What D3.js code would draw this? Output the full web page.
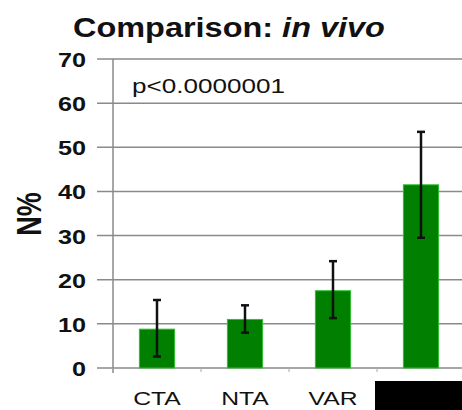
<!DOCTYPE html>
<html><head><meta charset="utf-8">
<script src="https://cdn.jsdelivr.net/npm/d3@7"></script>
<style>body{margin:0;background:#fff}svg{display:block}text{font-family:Arial,"Liberation Sans",sans-serif}</style>
</head><body><div id="chart"></div>
<script>
const categories = ["CTA", "NTA", "VAR", ""];
const values = [8.8, 11.0, 17.5, 41.5];
const errLow = [2.6, 8.0, 11.3, 29.5];
const errHigh = [15.4, 14.2, 24.2, 53.5];
const yTicks = [0, 10, 20, 30, 40, 50, 60, 70];
const titleMain = "Comparison: ";
const titleItalic = "in vivo";
const pText = "p<0.0000001";
const yLabel = "N%";

const W = 462, H = 410;
const svg = d3.select("#chart").append("svg").attr("width", W).attr("height", H);
svg.append("rect").attr("width", W).attr("height", H).attr("fill", "#fff");

const x = d3.scaleBand().domain(d3.range(categories.length)).range([113, 465]).paddingInner(0.6).paddingOuter(0.3);
const y = d3.scaleLinear().domain([0, 70]).range([368, 59]);

// gridlines
svg.append("g").selectAll("line").data(yTicks).join("line")
  .attr("x1", 97).attr("x2", W).attr("y1", d => y(d)).attr("y2", d => y(d))
  .attr("stroke", "#8a8a8a").attr("stroke-width", 1.5);
// y axis line
svg.append("line").attr("x1", 113).attr("x2", 113).attr("y1", y(70)).attr("y2", y(0) + 5)
  .attr("stroke", "#8a8a8a").attr("stroke-width", 1.5);
// x category boundary ticks
const step = x.step();
svg.append("g").selectAll("line").data(d3.range(categories.length)).join("line")
  .attr("x1", d => x(d) + x.bandwidth() / 2 - step / 2).attr("x2", d => x(d) + x.bandwidth() / 2 - step / 2)
  .attr("y1", y(0)).attr("y2", y(0) + 4).attr("stroke", "#aaa").attr("stroke-width", 1);

// y tick labels
svg.append("g").selectAll("text").data(yTicks).join("text")
  .attr("transform", d => `translate(86,${y(d) + 8}) scale(1.2,1)`)
  .attr("text-anchor", "end").attr("font-size", 21).attr("font-weight", "bold").attr("fill", "#111")
  .text(d => d);

// y label
svg.append("text").attr("transform", "translate(41,214) scale(1.3,1) rotate(-90)")
  .attr("text-anchor", "middle").attr("font-size", 27).attr("font-weight", "bold").attr("fill", "#111")
  .text(yLabel);

// bars
svg.append("g").selectAll("rect").data(values).join("rect")
  .attr("x", (d, i) => x(i)).attr("width", x.bandwidth())
  .attr("y", d => y(d)).attr("height", d => y(0) - y(d))
  .attr("fill", "#007f00").attr("stroke", "#2fbf2f").attr("stroke-width", 1);

// error bars
const eg = svg.append("g").attr("stroke", "#111").attr("stroke-width", 2.5);
values.forEach((v, i) => {
  const cx = x(i) + x.bandwidth() / 2;
  eg.append("line").attr("x1", cx).attr("x2", cx).attr("y1", y(errHigh[i])).attr("y2", y(errLow[i]));
  eg.append("line").attr("x1", cx - 4).attr("x2", cx + 4).attr("y1", y(errHigh[i])).attr("y2", y(errHigh[i]));
  eg.append("line").attr("x1", cx - 4).attr("x2", cx + 4).attr("y1", y(errLow[i])).attr("y2", y(errLow[i]));
});

// x labels
svg.append("g").selectAll("text").data(categories).join("text")
  .attr("transform", (d, i) => `translate(${x(i) + x.bandwidth() / 2},405) scale(1.3,1)`)
  .attr("text-anchor", "middle").attr("font-size", 19).attr("fill", "#111")
  .text(d => d);
// redaction box over 4th label
svg.append("rect").attr("x", 375).attr("y", 381).attr("width", W - 375).attr("height", H - 381).attr("fill", "#000");

// p text
svg.append("text").attr("x", 132).attr("y", 93).attr("font-size", 21).attr("fill", "#111")
  .attr("textLength", 153).attr("lengthAdjust", "spacingAndGlyphs").text(pText);

// title
const title = svg.append("text").attr("font-size", 27).attr("font-weight", "bold").attr("fill", "#111");
title.append("tspan").text(titleMain);
title.append("tspan").attr("font-style", "italic").text(titleItalic);
const tw = title.node().getComputedTextLength();
title.attr("transform", `translate(73,37) scale(${312 / tw},1)`);
</script></body></html>
